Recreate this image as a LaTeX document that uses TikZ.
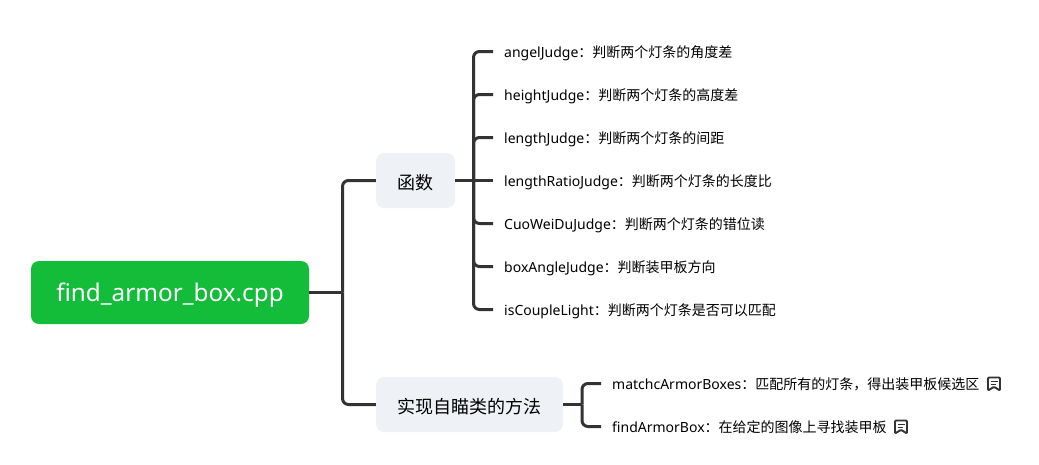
\documentclass[tikz,border=0pt]{standalone}
\usepackage{fontspec}
\setmainfont{Noto Sans}
\newfontfamily\cjk{Noto Sans CJK SC}
\usetikzlibrary{positioning}
\definecolor{rootgreen}{HTML}{13BC39}
\definecolor{boxgrey}{HTML}{EEF1F5}
\definecolor{linegrey}{HTML}{333333}
\tikzset{
  rootbox/.style={fill=rootgreen,text=white,rounded corners=8,inner sep=0pt,minimum width=278,minimum height=63,text height=18pt,text depth=0.4pt,font=\fontsize{24.3}{30}\selectfont},
  midbox/.style={fill=boxgrey,text=black,rounded corners=8,inner sep=0pt,minimum height=55,text height=17pt,text depth=0pt,font=\fontsize{18}{22}\selectfont},
  leaf/.style={anchor=west,inner xsep=11pt,inner ysep=0pt,text height=12pt,text depth=0pt,text=black,font=\fontsize{14}{17}\selectfont},
  link/.style={draw=linegrey,line width=3pt,rounded corners=6},
  noteicon/.style={draw=linegrey,line width=1.9pt,line join=round,rounded corners=1}
}
\begin{document}
\begin{tikzpicture}[x=1pt,y=-1pt]
  \useasboundingbox (0,0) rectangle (1039,464);
  \node[rootbox] (root) at (170,292.5) {find\_armor\_box.cpp};
  \node[midbox,minimum width=79] (func) at (415.5,180.5) {\cjk 函数};
  \node[midbox,minimum width=187] (impl) at (469.5,404.5) {\cjk 实现自瞄类的方法};
  \node[leaf] (angel) at (493,51.5) {angelJudge{\cjk ：判断两个灯条的角度差}};
  \node[leaf] (height) at (493,94.5) {heightJudge{\cjk ：判断两个灯条的高度差}};
  \node[leaf] (length) at (493,137.5) {lengthJudge{\cjk ：判断两个灯条的间距}};
  \node[leaf] (ratio) at (493,180.5) {lengthRatioJudge{\cjk ：判断两个灯条的长度比}};
  \node[leaf] (cuowei) at (493,223.5) {CuoWeiDuJudge{\cjk ：判断两个灯条的错位读}};
  \node[leaf] (boxangle) at (493,266.5) {boxAngleJudge{\cjk ：判断装甲板方向}};
  \node[leaf] (couple) at (493,309.5) {isCoupleLight{\cjk ：判断两个灯条是否可以匹配}};
  \node[leaf] (matchc) at (601,383.5) {matchcArmorBoxes{\cjk ：匹配所有的灯条，得出装甲板候选区}};
  \node[leaf] (findbox) at (601,426.5) {findArmorBox{\cjk ：在给定的图像上寻找装甲板}};
  \coordinate (roottrunk) at (342.5,292.5);
  \coordinate (functrunk) at (473.5,180.5);
  \coordinate (impltrunk) at (582,404.5);
  \draw[link] (root.east) -- (roottrunk);
  \draw[link] (roottrunk) |- (func.west);
  \draw[link] (roottrunk) |- (impl.west);
  \draw[link] (func.east) -- (ratio.west);
  \draw[link] (functrunk) |- (angel.west);
  \draw[link] (functrunk) |- (height.west);
  \draw[link] (functrunk) |- (length.west);
  \draw[link] (functrunk) |- (cuowei.west);
  \draw[link] (functrunk) |- (boxangle.west);
  \draw[link] (functrunk) |- (couple.west);
  \draw[link] (impl.east) -- (impltrunk);
  \draw[link] (impltrunk) |- (matchc.west);
  \draw[link] (impltrunk) |- (findbox.west);
  \draw[noteicon] (988,377.5) -- (1000,377.5) -- (1000,390.5) -- (994,386.8) -- (988,390.5) -- cycle;
  \draw[noteicon,line width=1.3pt] (990.5,381.5) -- (997.5,381.5) (990.5,384.5) -- (995.5,384.5);
  \draw[noteicon] (895,420.5) -- (907,420.5) -- (907,433.5) -- (901,429.8) -- (895,433.5) -- cycle;
  \draw[noteicon,line width=1.3pt] (897.5,424.5) -- (904.5,424.5) (897.5,427.5) -- (902.5,427.5);
\end{tikzpicture}
\end{document}
